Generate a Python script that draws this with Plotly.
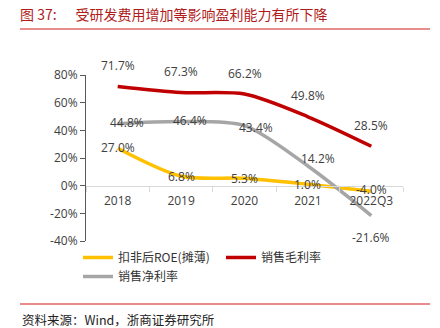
import plotly.graph_objects as go

categories = ["2018", "2019", "2020", "2021", "2022Q3"]
roe = [27.0, 6.8, 5.3, 1.0, -4.0]
gross_margin = [71.7, 67.3, 66.2, 49.8, 28.5]
net_margin = [44.8, 46.4, 43.4, 14.2, -21.6]
y_ticks = [-40, -20, 0, 20, 40, 60, 80]

W, H = 440, 328
L, R, T, B = 86, 37, 75, 87
pw, ph = W - L - R, H - T - B
def px(x):
    return (x - L) / pw
def py(y):
    return (H - B - y) / ph

fig = go.Figure()
series = [
    ("扣非后ROE(摊薄)", roe, "#ffc000"),
    ("销售毛利率", gross_margin, "#c00000"),
    ("销售净利率", net_margin, "#a6a6a6"),
]
for name, vals, col in series:
    fig.add_trace(go.Scatter(x=categories, y=vals, name=name, mode="lines",
                             line=dict(color=col, width=3.5, shape="spline", smoothing=0.8)))

label_font = dict(family="Open Sans, Noto Sans", size=12, color="#404040")
ann = []
for i, v in enumerate(gross_margin):
    ann.append(dict(x=i, y=v, text=f"{v:.1f}%", showarrow=False, yshift=21, font=label_font))
net_shift = [(9, 1), (9, 1), (11, -2), (10, 8), (0, -22)]
for i, (v, (dx, dy)) in enumerate(zip(net_margin, net_shift)):
    ann.append(dict(x=i, y=v, text=f"{v:.1f}%", showarrow=False, xshift=dx, yshift=dy, font=label_font))
roe_shift = [(0, 1), (0, 0), (0, 0), (0, 0), (0, 2)]
for i, (v, (dx, dy)) in enumerate(zip(roe, roe_shift)):
    ann.append(dict(x=i, y=v, text=f"{v:.1f}%", showarrow=False, xshift=dx, yshift=dy, font=label_font))

cjk = "Noto Sans CJK SC"
ann.append(dict(xref="paper", yref="paper", x=px(20), y=py(319), xanchor="left", yanchor="middle",
                text="资料来源：Wind，浙商证券研究所", showarrow=False,
                font=dict(family=cjk, size=12.5, color="#222222")))

fig.update_layout(
    width=W, height=H,
    margin=dict(l=L, r=R, t=T, b=B),
    paper_bgcolor="white", plot_bgcolor="white",
    title=dict(text="图 37:      受研发费用增加等影响盈利能力有所下降", x=20 / W, xanchor="left",
               y=1 - 15 / H, yanchor="middle",
               font=dict(family=cjk, size=14, color="#b01c1c")),
    annotations=ann,
    showlegend=True,
    legend=dict(orientation="h", x=px(78), y=py(243), xanchor="left", yanchor="top",
                entrywidth=98, entrywidthmode="pixels", itemwidth=30,
                font=dict(family=cjk, size=12, color="#333333"), tracegroupgap=0),
    shapes=[
        dict(type="line", xref="paper", yref="paper", x0=px(20), x1=px(430), y0=py(29), y1=py(29),
             line=dict(color="#e06666", width=1.5)),
        dict(type="line", xref="paper", yref="paper", x0=px(20), x1=px(430), y0=py(304), y1=py(304),
             line=dict(color="#e06666", width=1.5)),
    ],
    xaxis=dict(type="category", anchor="free", position=1/3, showline=True, linecolor="#d9d9d9",
               linewidth=1, ticks="outside", tickson="boundaries", ticklen=5, tickcolor="#d9d9d9",
               showgrid=False, zeroline=False, range=[-0.5, 4.5], ticklabelstandoff=4,
               tickfont=dict(family="Open Sans, Noto Sans", size=12, color="#404040")),
    yaxis=dict(range=[-40, 80], tickvals=y_ticks, ticktext=[f"{t}%" for t in y_ticks],
               showline=True, linecolor="#595959", linewidth=1, ticks="outside", ticklen=5,
               tickcolor="#595959", showgrid=False, zeroline=False,
               tickfont=dict(family="Open Sans, Noto Sans", size=12, color="#404040")),
)

fig.write_html("out.html")
